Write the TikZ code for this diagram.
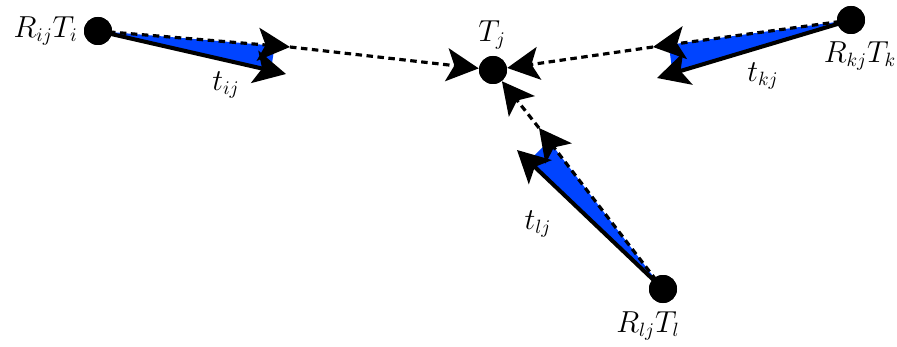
\documentclass[tikz,border=0pt]{standalone}
\usetikzlibrary{arrows.meta,calc}
\definecolor{vblue}{RGB}{0,68,255}
\begin{document}
\begin{tikzpicture}[x=0.2mm,y=-0.2mm,
  pt/.style={circle,fill=black,minimum size=5.6mm,inner sep=0pt},
  lbl/.style={font=\fontsize{16}{18}\selectfont,inner sep=0pt},
  tiparrow/.style={-{Stealth[length=6.4mm,width=6.6mm,inset=1.5mm]}},
  dsh/.style={tiparrow,line width=1.8pt,dash pattern=on 1.3mm off 0.9mm},
  sld/.style={tiparrow,line width=2.3pt},
  tri/.style={fill=vblue}]
\useasboundingbox (0,0) rectangle (897,347);
% points
\node[pt] (Ti) at (98,31) {};
\node[pt] (Tj) at (493,70) {};
\node[pt] (Tk) at (851,20) {};
\node[pt] (Tl) at (663,289) {};
% arrow end points
\coordinate (a1) at (290,47);
\coordinate (s1) at (286,74);
\coordinate (a2) at (653,47);
\coordinate (s2) at (657,78);
\coordinate (a3) at (539,128);
\coordinate (s3) at (517,150);
% blue triangles
\fill[tri] (Ti.center) -- ($(Ti.center)!0.92!(a1)$) -- ($(Ti.center)!0.92!(s1)$) -- cycle;
\fill[tri] (Tk.center) -- ($(Tk.center)!0.92!(a2)$) -- ($(Tk.center)!0.92!(s2)$) -- cycle;
\fill[tri] (Tl.center) -- ($(Tl.center)!0.92!(a3)$) -- ($(Tl.center)!0.92!(s3)$) -- cycle;
% solid arrows
\draw[sld] (Ti.center) -- (s1);
\draw[sld] (Tk.center) -- (s2);
\draw[sld] (Tl.center) -- (s3);
% dashed arrows
\draw[dsh] (Ti.center) -- (a1);
\draw[dsh] (Tk.center) -- (a2);
\draw[dsh] (Tl.center) -- (a3);
\draw[dsh] (a1) -- (Tj);
\draw[dsh] (a2) -- (Tj);
\draw[dsh] (a3) -- (Tj);
% redraw points on top
\node[pt] at (Ti) {};
\node[pt] at (Tk) {};
\node[pt] at (Tl) {};
\node[pt] at (Tj) {};
% labels
\node[lbl,anchor=east] (LTi) at (78,31) {$R_{ij}T_i$};
\node[lbl] (LTj) at (492,35) {$T_j$};
\node[lbl] (LTk) at (860,56) {$R_{kj}T_k$};
\node[lbl] (LTl) at (648,326) {$R_{lj}T_l$};
\node[lbl] (tij) at (226,85) {$t_{ij}$};
\node[lbl] (tkj) at (763,76) {$t_{kj}$};
\node[lbl] (tlj) at (538,224) {$t_{lj}$};
\end{tikzpicture}
\end{document}
